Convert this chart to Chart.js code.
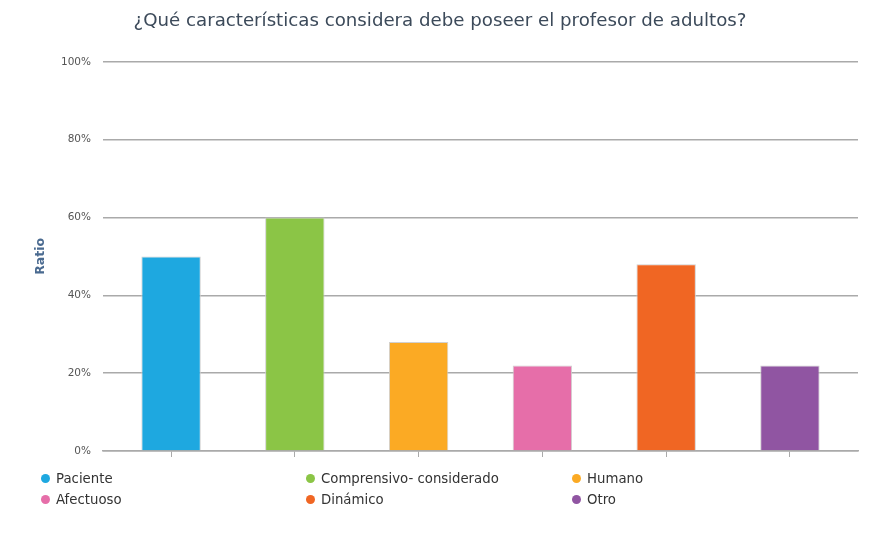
<!DOCTYPE html>
<html>
<head>
<meta charset="utf-8">
<script src="https://cdn.jsdelivr.net/npm/chart.js@4"></script>
<style>
  html, body { margin: 0; padding: 0; background: #fff; }
  #wrap { position: relative; width: 876px; height: 536px; }
  #legend {
    position: absolute; left: 0; top: 471px; width: 876px;
    font-family: "DejaVu Sans", sans-serif; font-size: 13.3px; color: #333;
  }
  .item { position: absolute; height: 16px; line-height: 16px; white-space: nowrap; }
  .dot { position: absolute; left: -5px; top: 3px; width: 9px; height: 9px; border-radius: 50%; }
  .txt { position: absolute; left: 10px; top: 0; }
</style>
</head>
<body>
<div id="wrap">
  <canvas id="chart" width="876" height="536"></canvas>
  <div id="legend"></div>
</div>
<script>
// datos de la encuesta
const categorias = ["Paciente", "Comprensivo- considerado", "Humano", "Afectuoso", "Dinámico", "Otro"];
const valores = [50, 60, 28, 22, 48, 22];
const colores = ["#1ea8e0", "#8bc546", "#fbaa24", "#e66ea9", "#f06623", "#9055a2"];
const ticksY = [0, 20, 40, 60, 80, 100];

document.addEventListener("DOMContentLoaded", function () {

    // leyenda en tres columnas
    const legend = document.getElementById("legend");
    const colX = [46, 311, 577];
    categorias.forEach(function (cat, i) {
        const it = document.createElement("div");
        it.className = "item";
        it.style.left = colX[i % 3] + "px";
        it.style.top = (Math.floor(i / 3) * 21) + "px";
        it.innerHTML = '<span class="dot" style="background:' + colores[i] + '"></span><span class="txt"></span>';
        it.querySelector(".txt").textContent = cat;
        legend.appendChild(it);
    });

    const ctx = document.getElementById("chart");

    // eje x numérico (índice de categoría) para dejar margen a los lados
    new Chart(ctx, {
        type: "bar",
        data: {
            datasets: [{
                label: "Ratio",
                data: valores.map(function (v, i) { return { x: i, y: v }; }),
                backgroundColor: colores,
                borderColor: "#d0d0d0",
                borderWidth: 1,
                barPercentage: 0.96,
                categoryPercentage: 0.5
            }]
        },
        options: {
            responsive: false,
            animation: false,
            layout: { padding: { left: 22, right: 18, top: 0, bottom: 0 } },
            plugins: {
                legend: { display: false },
                tooltip: { enabled: false },
                title: {
                    display: true,
                    text: "¿Qué características considera debe poseer el profesor de adultos?",
                    color: "#3c4a5a",
                    font: { family: "DejaVu Sans", size: 18.2, weight: "normal" },
                    padding: { top: 10, bottom: 30 }
                }
            },
            scales: {
                x: {
                    type: "linear",
                    offset: false,
                    min: -0.55,
                    max: categorias.length - 0.45,
                    grid: {
                        offset: false,
                        drawOnChartArea: false,
                        drawTicks: true,
                        tickLength: 6,
                        color: "#aaaaaa",
                        lineWidth: 1
                    },
                    border: { display: true, color: "#aaaaaa", width: 1.5 },
                    ticks: { display: false, stepSize: 1, includeBounds: false },
                    afterFit: function (scale) { scale.height = 85; }
                },
                y: {
                    min: 0,
                    max: 100,
                    afterBuildTicks: function (scale) {
                        scale.ticks = ticksY.map(function (v) { return { value: v }; });
                    },
                    grid: { color: "#aaaaaa", lineWidth: 1.5, drawTicks: false },
                    border: { display: false },
                    ticks: {
                        padding: 12,
                        color: "#555",
                        font: { family: "DejaVu Sans", size: 10.5 },
                        callback: function (v) { return v + "%"; }
                    },
                    title: {
                        display: true,
                        text: "Ratio",
                        color: "#4a6a90",
                        font: { family: "DejaVu Sans", size: 12.5, weight: "bold" },
                        padding: { top: 11, bottom: 0 }
                    },
                    afterFit: function (scale) { scale.width = 81; }
                }
            }
        }
    });

});
</script>
</body>
</html>
